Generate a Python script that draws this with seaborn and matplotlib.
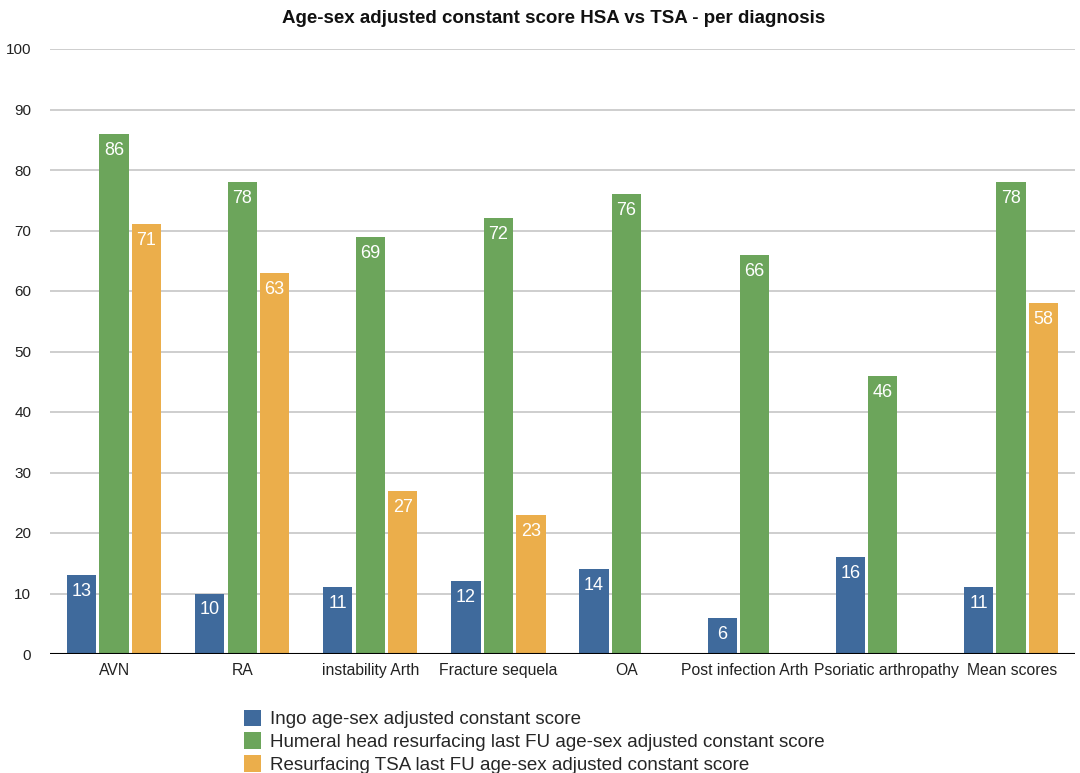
import matplotlib
matplotlib.use("Agg")
import matplotlib.pyplot as plt
import matplotlib.transforms as mtransforms
import seaborn as sns
import pandas as pd
import numpy as np

categories = ["AVN", "RA", "instability Arth", "Fracture sequela", "OA",
              "Post infection Arth", "Psoriatic arthropathy", "Mean scores"]
series_names = [
    "Ingo age-sex adjusted constant score",
    "Humeral head resurfacing last FU age-sex adjusted constant score",
    "Resurfacing TSA last FU age-sex adjusted constant score",
]
ingo = [13, 10, 11, 12, 14, 6, 16, 11]
hhr = [86, 78, 69, 72, 76, 66, 46, 78]
tsa = [71, 63, 27, 23, None, None, None, 58]
colors = ["#3F6A9C", "#6CA55B", "#EBAE4B"]
y_ticks = list(range(0, 101, 10))

rows = []
for name, vals in zip(series_names, [ingo, hhr, tsa]):
    for cat, v in zip(categories, vals):
        if v is not None:
            rows.append({"category": cat, "series": name, "value": v})
df = pd.DataFrame(rows)

sns.set_style("white")
plt.rcParams["font.family"] = ["Liberation Sans", "DejaVu Sans"]

fig = plt.figure(figsize=(10.8, 7.73), dpi=100)
ax = fig.add_axes([50 / 1080, 1 - 654 / 773, 1025 / 1080, 605 / 773])

sns.barplot(data=df, x="category", y="value", hue="series",
            order=categories, hue_order=series_names, palette=colors,
            width=0.76, gap=0.1, saturation=1, errorbar=None,
            edgecolor="none", linewidth=0, ax=ax, legend=True)

ax.set_ylim(0, 100)
ax.set_xlim(-0.5, len(categories) - 0.5)
ax.set_yticks(y_ticks)
ax.set_yticklabels([str(t) for t in y_ticks], fontsize=11, color="#222222")
ax.yaxis.grid(True, color="#c6c6c6", linewidth=1.2)
ax.set_axisbelow(True)
ax.axhline(0, color="black", linewidth=1.5, zorder=3)
for s in ax.spines.values():
    s.set_visible(False)
ax.tick_params(axis="both", length=0)
ax.tick_params(axis="y", pad=13.5)
ax.set_xticks(range(len(categories)))
ax.set_xticklabels([])
ax.set_xlabel("")
ax.set_ylabel("")

# category labels under each group; neighbours that collide are pushed apart
base = mtransforms.blended_transform_factory(ax.transData, ax.transAxes)
drop = mtransforms.ScaledTranslation(0, -6.5 / 72, fig.dpi_scale_trans)
cat_texts = [ax.text(i, 0, c, transform=base + drop, ha="center", va="top",
                     fontsize=11.3, color="#222222")
             for i, c in enumerate(categories)]
fig.canvas.draw()
renderer = fig.canvas.get_renderer()
shifts = [0.0] * len(cat_texts)
min_gap = 8
for i in range(len(cat_texts) - 1):
    a = cat_texts[i].get_window_extent(renderer)
    b = cat_texts[i + 1].get_window_extent(renderer)
    overlap = (a.x1 + shifts[i]) - (b.x0 + shifts[i + 1]) + min_gap
    if overlap > 0:
        shifts[i] -= overlap * 0.6
        shifts[i + 1] += overlap * 0.4
for t, s in zip(cat_texts, shifts):
    t.set_transform(base + drop + mtransforms.ScaledTranslation(
        s / fig.dpi, 0, fig.dpi_scale_trans))

for cont in ax.containers:
    ax.bar_label(cont, fmt="%d", label_type="edge", padding=-18,
                 color="white", fontsize=13)

handles, labels = ax.get_legend_handles_labels()
ax.get_legend().remove()
fig.legend(handles, labels, loc="upper left",
           bbox_to_anchor=(236 / 1080, 1 - 702 / 773), frameon=False,
           fontsize=13.5, handlelength=0.95, handleheight=1.0,
           handletextpad=0.45, labelspacing=0.22, borderaxespad=0)

fig.suptitle("Age-sex adjusted constant score HSA vs TSA - per diagnosis",
             x=554 / 1080, y=1 - 10 / 773, va="top",
             fontsize=13.5, fontweight="bold", color="#111111")

fig.savefig("out.png", dpi=100, facecolor="white")
